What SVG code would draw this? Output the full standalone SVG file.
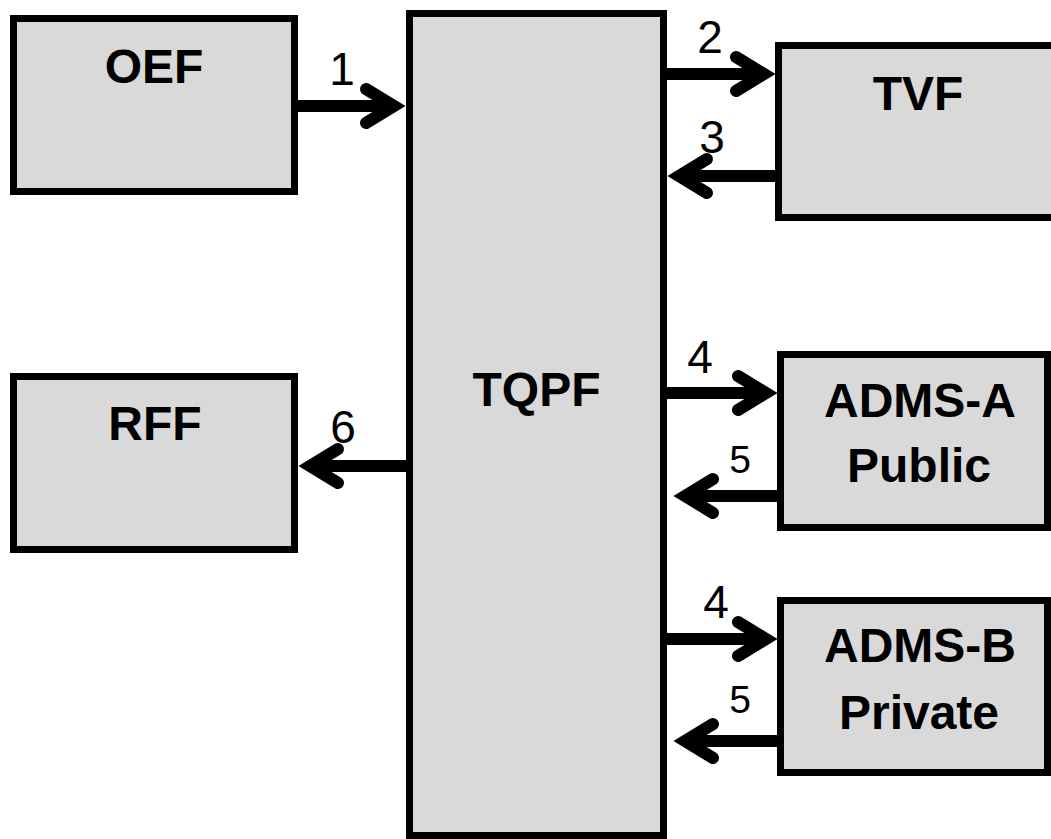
<svg xmlns="http://www.w3.org/2000/svg" width="1051" height="839" viewBox="0 0 1051 839">
<style>
.box{fill:#d9d9d9;stroke:#000;stroke-width:7}
.t{font-family:"Liberation Sans",Arial,sans-serif;font-weight:bold;font-size:48px;text-anchor:middle;fill:#000}
.n{font-family:"Liberation Sans",Arial,sans-serif;font-size:46px;text-anchor:middle;fill:#000}
.n5{font-size:39px}
.c{fill:none;stroke:#000;stroke-width:12;marker-end:url(#arr)}
</style>
<defs>
<marker id="arr" markerUnits="userSpaceOnUse" viewBox="-40 -30 60 60" markerWidth="60" markerHeight="60" refX="0" refY="0" orient="auto" overflow="visible">
<path d="M-28,-17 L0,0 L-28,17" fill="none" stroke="#000" stroke-width="12" stroke-linecap="round" stroke-linejoin="miter"/>
</marker>
</defs>
<rect width="1051" height="839" fill="#fff"/>
<g id="OEF"><rect class="box" x="13.5" y="18.5" width="281" height="173"/><text class="t" x="154" y="83">OEF</text></g>
<g id="RFF"><rect class="box" x="13.5" y="376.5" width="281" height="173"/><text class="t" x="155" y="440">RFF</text></g>
<g id="TQPF"><rect class="box" x="409.5" y="13.5" width="254" height="822"/><text class="t" x="536.5" y="406">TQPF</text></g>
<g id="TVF"><rect class="box" x="778.5" y="45.5" width="300" height="172"/><text class="t" x="918" y="110">TVF</text></g>
<g id="ADMS-A"><rect class="box" x="780.5" y="354.5" width="267" height="173"/><text class="t" x="920" y="417">ADMS-A</text><text class="t" x="919" y="482">Public</text></g>
<g id="ADMS-B"><rect class="box" x="780.5" y="600.5" width="267" height="172"/><text class="t" x="920" y="662">ADMS-B</text><text class="t" x="919" y="729">Private</text></g>
<g id="connectors">
<line class="c" x1="297" y1="106" x2="394" y2="106"/>
<line class="c" x1="667" y1="74" x2="764" y2="74"/>
<line class="c" x1="778" y1="176" x2="679" y2="176"/>
<line class="c" x1="667" y1="393" x2="766" y2="393"/>
<line class="c" x1="784" y1="496" x2="685" y2="496"/>
<line class="c" x1="667" y1="639" x2="766" y2="639"/>
<line class="c" x1="784" y1="741" x2="685" y2="741"/>
<line class="c" x1="406" y1="466" x2="310" y2="466"/>
<text class="n" x="342" y="85">1</text>
<text class="n" x="710" y="53">2</text>
<text class="n" x="712" y="153">3</text>
<text class="n" x="700" y="373">4</text>
<text class="n n5" x="740" y="473">5</text>
<text class="n" x="716" y="618">4</text>
<text class="n n5" x="740" y="713">5</text>
<text class="n" x="343" y="443">6</text>
</g>
</svg>
